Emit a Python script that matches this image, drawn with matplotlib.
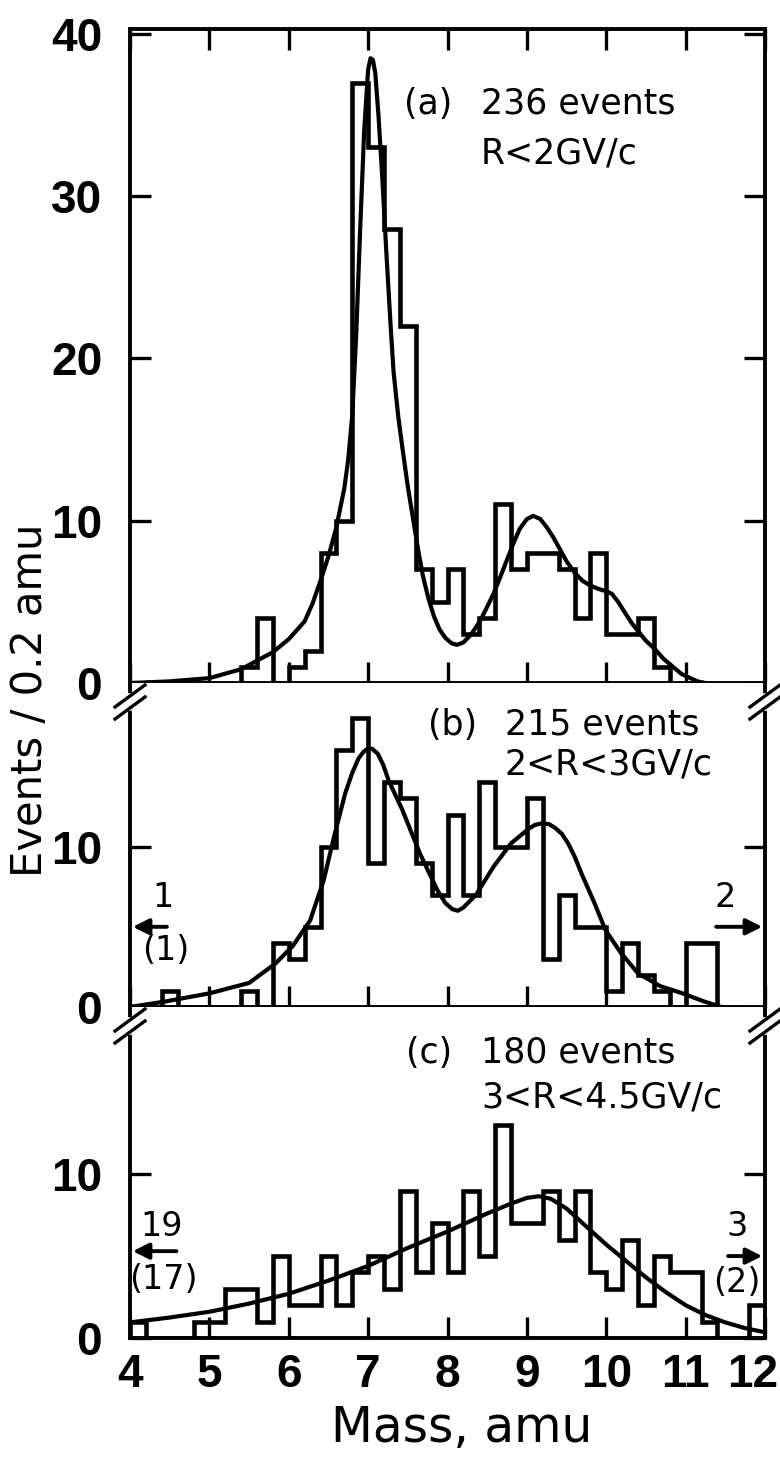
import numpy as np
import matplotlib.pyplot as plt
from matplotlib.lines import Line2D

# counts per 0.2 amu bin, first bin edge given separately
bin_width = 0.2
a_first_edge = 5.4
a_counts = [1, 4, 0, 1, 2, 8, 10, 37, 33, 28, 22, 7, 5, 7, 3, 4, 11, 7, 8, 8, 7, 4, 8, 3, 3, 4, 1]

b_first_edge = 4.4
b_counts = [1, 0, 0, 0, 0, 1, 0, 4, 3, 5, 10, 16, 18, 9, 14, 13, 9, 7, 12, 7, 14, 10, 10, 13, 3,
            7, 5, 5, 1, 4, 2, 1, 0, 4, 4]

c_first_edge = 4.0
c_counts = [1, 0, 0, 0, 1, 1, 3, 3, 1, 5, 2, 2, 5, 2, 4, 5, 3, 9, 4, 7, 4, 9, 5, 13, 7, 7, 9, 6, 9, 4,
            3, 6, 2, 5, 4, 4, 1, 0, 0, 2]

# fitted curves
a_fit_x = [4.0, 4.5, 5.0, 5.4, 5.8, 6.0, 6.2, 6.3, 6.4, 6.5, 6.6, 6.7, 6.75, 6.8, 6.85, 6.9, 6.95,
           7.0, 7.03, 7.06, 7.09, 7.13, 7.18, 7.23, 7.28, 7.32, 7.38, 7.44, 7.5, 7.57, 7.63, 7.69,
           7.76, 7.83, 7.9, 7.97, 8.05, 8.12, 8.2, 8.3, 8.42, 8.5, 8.58, 8.67, 8.75, 8.83, 8.91, 9.0,
           9.08, 9.17, 9.25, 9.33, 9.41, 9.5, 9.6, 9.7, 9.8, 9.9, 10.0, 10.07, 10.15, 10.24, 10.32,
           10.4, 10.5, 10.62, 10.72, 10.84, 10.95, 11.06, 11.15, 11.25]
a_fit_y = [0.0, 0.1, 0.3, 0.85, 1.9, 2.7, 3.8, 4.9, 6.3, 7.8, 9.6, 12.0, 13.8, 16.5, 21.5, 28.0,
           34.0, 37.8, 38.5, 38.4, 37.6, 35.0, 31.0, 26.5, 22.3, 19.2, 16.4, 14.2, 12.1, 10.0, 8.2,
           6.6, 5.2, 4.1, 3.3, 2.8, 2.45, 2.35, 2.5, 3.0, 3.9, 4.7, 5.5, 6.6, 7.6, 8.6, 9.5, 10.1,
           10.3, 10.1, 9.6, 9.0, 8.3, 7.5, 6.8, 6.3, 6.0, 5.8, 5.65, 5.5, 5.0, 4.3, 3.7, 3.2,
           2.6, 2.05, 1.5, 1.0, 0.55, 0.3, 0.1, 0.0]

b_fit_x = [4.0, 4.45, 5.0, 5.5, 5.83, 6.05, 6.27, 6.44, 6.57, 6.71, 6.8, 6.88, 6.94, 6.99, 7.05, 7.12,
           7.19, 7.26, 7.43, 7.65, 7.87, 7.97, 8.06, 8.13, 8.2, 8.36, 8.58, 8.8, 9.02, 9.1, 9.19, 9.28,
           9.36, 9.44, 9.52, 9.6, 9.69, 9.85, 9.99, 10.18, 10.4, 10.68, 10.95, 11.23, 11.45]
b_fit_y = [0.0, 0.35, 0.85, 1.5, 2.7, 3.8, 5.4, 7.9, 10.6, 13.3, 14.6, 15.5, 15.9, 16.1, 16.1, 15.8,
           15.1, 14.1, 12.3, 9.6, 7.3, 6.5, 6.1, 6.0, 6.2, 7.0, 8.75, 10.2, 11.1, 11.35, 11.45, 11.4,
           11.15, 10.8, 10.2, 9.4, 8.3, 6.5, 4.8, 3.4, 2.1, 1.3, 0.87, 0.35, 0.0]

c_fit_x = [4.0, 4.5, 5.0, 5.5, 6.0, 6.5, 7.0, 7.5, 8.0, 8.5, 8.8, 9.0, 9.15, 9.3, 9.5, 9.75, 10.0,
           10.25, 10.5, 10.75, 11.0, 11.25, 11.5, 11.75, 12.0]
c_fit_y = [0.95, 1.25, 1.6, 2.1, 2.7, 3.5, 4.4, 5.5, 6.5, 7.6, 8.2, 8.55, 8.65, 8.5, 7.9, 6.8, 5.7,
           4.7, 3.7, 2.8, 2.0, 1.4, 0.95, 0.6, 0.35]

mass_ticks = [4, 5, 6, 7, 8, 9, 10, 11, 12]

W, H = 780, 1468
fig = plt.figure(figsize=(W / 100, H / 100), dpi=100)

left, width = 130 / W, 635 / W
ax_a = fig.add_axes([left, 1 - 683 / H, width, 654 / H])
ax_b = fig.add_axes([left, 1 - 1007 / H, width, 324 / H])
ax_c = fig.add_axes([left, 1 - 1338 / H, width, 331 / H])

tick_font = dict(family='Liberation Sans', size=33, weight='bold')
text_font = dict(family='DejaVu Sans', size=25)
num_font = dict(family='DejaVu Sans', size=24)


def draw_panel(ax, first_edge, counts, fx, fy, ymax, yticks):
    edges = first_edge + bin_width * np.arange(len(counts) + 1)
    ax.stairs(counts, edges, baseline=0, color='black', lw=3.3)
    ax.plot(fx, fy, color='black', lw=3.0, solid_capstyle='round', solid_joinstyle='round')
    ax.set_xlim(4, 12)
    ax.set_ylim(0, ymax)
    ax.set_xticks(mass_ticks)
    ax.set_xticklabels([])
    ax.set_yticks(yticks)
    ax.tick_params(direction='in', length=15, width=2.4, left=True, right=True,
                   bottom=True, top=False, pad=20)
    for lab in ax.get_yticklabels():
        lab.set(**tick_font)
    for s in ax.spines.values():
        s.set_linewidth(2.8)


draw_panel(ax_a, a_first_edge, a_counts, a_fit_x, a_fit_y, 40.3, [0, 10, 20, 30, 40])
draw_panel(ax_b, b_first_edge, b_counts, b_fit_x, b_fit_y, 20.2, [0, 10])
draw_panel(ax_c, c_first_edge, c_counts, c_fit_x, c_fit_y, 20.2, [0, 10])
ax_a.tick_params(top=True)
ax_b.spines['top'].set_visible(False)
ax_c.spines['top'].set_visible(False)

# mass tick labels (last one nudged so it stays inside the picture)
for m in mass_ticks:
    dx = -9 if m == mass_ticks[-1] else 0
    ax_c.annotate(str(m), xy=(m, 0), xycoords='data', xytext=(dx, -11),
                  textcoords='offset points', ha='center', va='top', **tick_font)

# panel captions
ax_a.text(7.45, 35.7, '(a)', va='center', **text_font)
ax_a.text(8.42, 35.7, '236 events', va='center', **text_font)
ax_a.text(8.42, 32.6, 'R<2GV/c', va='center', **text_font)

ax_b.text(7.75, 17.6, '(b)', va='center', **text_font)
ax_b.text(8.72, 17.6, '215 events', va='center', **text_font)
ax_b.text(8.72, 15.1, '2<R<3GV/c', va='center', **text_font)

ax_c.text(7.48, 17.4, '(c)', va='center', **text_font)
ax_c.text(8.42, 17.4, '180 events', va='center', **text_font)
ax_c.text(8.42, 14.7, '3<R<4.5GV/c', va='center', **text_font)

# overflow arrows
arrow = dict(arrowstyle='-|>', lw=2.8, color='black', mutation_scale=24)
ax_b.annotate('', xy=(4.0, 5.0), xytext=(4.5, 5.0), arrowprops=arrow)
ax_b.text(4.42, 6.8, '1', ha='center', va='center', **num_font)
ax_b.text(4.45, 3.5, '(1)', ha='center', va='center', **num_font)
ax_b.annotate('', xy=(12.0, 5.0), xytext=(11.35, 5.0), arrowprops=arrow)
ax_b.text(11.5, 6.8, '2', ha='center', va='center', **num_font)

ax_c.annotate('', xy=(4.0, 5.3), xytext=(4.62, 5.3), arrowprops=arrow)
ax_c.text(4.4, 6.8, '19', ha='center', va='center', **num_font)
ax_c.text(4.42, 3.6, '(17)', ha='center', va='center', **num_font)
ax_c.annotate('', xy=(12.0, 5.0), xytext=(11.5, 5.0), arrowprops=arrow)
ax_c.text(11.65, 6.8, '3', ha='center', va='center', **num_font)
ax_c.text(11.65, 3.4, '(2)', ha='center', va='center', **num_font)


# axis break marks (//) where the panels meet
def break_mark(xp, yp):
    fig.add_artist(Line2D([xp / W, xp / W], [1 - (yp - 6) / H, 1 - (yp + 6) / H],
                          color='white', lw=4))
    for off in (-6, 6):
        fig.add_artist(Line2D([(xp - 15) / W, (xp + 15) / W],
                              [1 - (yp + off + 11) / H, 1 - (yp + off - 11) / H],
                              color='black', lw=2.4))


for yp in (702, 1026):
    break_mark(130, yp)
    break_mark(765, yp)

fig.text(30 / W, 1 - 700 / H, 'Events / 0.2 amu', rotation=90, ha='center', va='center',
         family='DejaVu Sans', size=30)
fig.text(462 / W, 1 - 1428 / H, 'Mass, amu', ha='center', va='center',
         family='DejaVu Sans', size=35)

fig.savefig('out.png', dpi=100)
